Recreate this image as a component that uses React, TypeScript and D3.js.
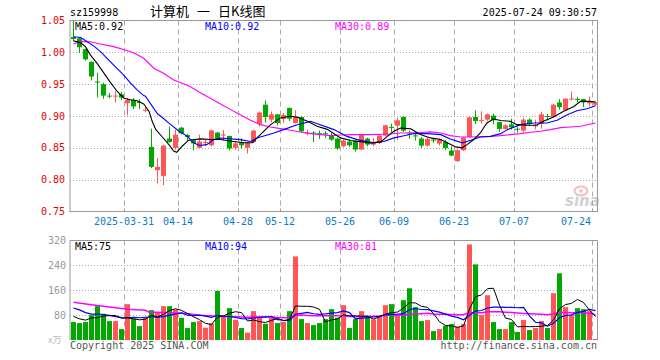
import React from "react";
import * as d3 from "d3";

const N = 88;

const openP = [1.024,1.022,1.005,0.985,0.954,0.950,0.932,0.931,0.934,0.920,0.9255,0.922,0.909,0.8515,0.815,0.806,0.8645,0.850,0.8817,0.870,0.862,0.850,0.858,0.854,0.874,0.8705,0.8686,0.850,0.8587,0.850,0.8588,0.8873,0.9177,0.8943,0.9026,0.8953,0.9125,0.889,0.8985,0.8735,0.874,0.873,0.873,0.8697,0.8645,0.8525,0.8598,0.8608,0.8473,0.8645,0.8551,0.8578,0.8692,0.8828,0.8849,0.8985,0.8725,0.8695,0.8645,0.8535,0.863,0.8567,0.8593,0.8457,0.8292,0.8463,0.8671,0.8985,0.8932,0.8943,0.9005,0.8906,0.8797,0.8869,0.880,0.877,0.8943,0.884,0.888,0.900,0.8985,0.9213,0.909,0.927,0.9268,0.9265,0.9198,0.9177];
const highP = [1.05,1.024,1.006,0.986,0.968,0.952,0.936,0.9395,0.938,0.928,0.928,0.9265,0.915,0.880,0.834,0.855,0.883,0.8786,0.883,0.872,0.864,0.8707,0.863,0.8786,0.875,0.878,0.869,0.860,0.865,0.859,0.8786,0.907,0.9245,0.907,0.903,0.9047,0.9135,0.909,0.900,0.8786,0.876,0.877,0.876,0.873,0.866,0.863,0.8634,0.862,0.8723,0.866,0.8655,0.870,0.886,0.888,0.897,0.8995,0.877,0.8734,0.867,0.866,0.8655,0.865,0.8625,0.8525,0.8473,0.867,0.899,0.909,0.9075,0.904,0.9036,0.891,0.8869,0.8958,0.883,0.8969,0.896,0.8943,0.9068,0.9036,0.919,0.9265,0.928,0.9385,0.930,0.927,0.9307,0.923];
const lowP = [1.018,0.999,0.987,0.956,0.929,0.927,0.928,0.921,0.925,0.901,0.911,0.911,0.906,0.818,0.794,0.7915,0.858,0.847,0.871,0.861,0.846,0.849,0.853,0.8525,0.863,0.861,0.846,0.847,0.849,0.841,0.8578,0.8837,0.890,0.890,0.885,0.889,0.892,0.888,0.874,0.870,0.859,0.864,0.865,0.861,0.847,0.851,0.8515,0.8442,0.8463,0.8525,0.8525,0.856,0.868,0.8744,0.8624,0.875,0.864,0.8614,0.850,0.852,0.8578,0.8535,0.8463,0.8368,0.8276,0.845,0.866,0.8875,0.888,0.892,0.887,0.875,0.8786,0.8786,0.874,0.874,0.884,0.879,0.880,0.8927,0.897,0.910,0.908,0.9245,0.921,0.914,0.9151,0.916];
const closeP = [1.021,1.008,0.989,0.962,0.953,0.932,0.931,0.932,0.929,0.925,0.915,0.921,0.910,0.820,0.820,0.8535,0.859,0.8707,0.8728,0.867,0.857,0.8598,0.859,0.8775,0.864,0.871,0.849,0.857,0.854,0.8578,0.877,0.9055,0.8985,0.9026,0.889,0.9016,0.8958,0.8995,0.876,0.874,0.8735,0.872,0.872,0.8629,0.849,0.8613,0.854,0.8473,0.8707,0.8551,0.8588,0.8692,0.8854,0.882,0.8932,0.877,0.872,0.869,0.8535,0.864,0.862,0.863,0.8494,0.8379,0.8463,0.8661,0.8979,0.8922,0.8935,0.9026,0.8933,0.8797,0.8854,0.8823,0.879,0.8943,0.8875,0.8855,0.9026,0.8985,0.9177,0.914,0.9271,0.9275,0.926,0.9213,0.9224,0.9218];
const volume = [57.6,54.4,57.6,80,108.8,84.3,60.8,60.8,35.2,115.2,68.3,44.8,72.5,96,89.6,108.8,108.8,98.1,71.5,38.4,57.6,60.8,39.5,53.3,157.9,76.8,102.4,65,38.4,23.5,92.8,74.7,52.3,72.5,54.4,58.7,92.8,268.8,67.2,54.4,48,54.4,67.2,99.2,71.5,112,38.4,67.2,92.8,71.5,66.1,75.7,112,115.2,80,128,166.4,105.6,60.8,64,28.8,35.2,45.9,51.2,42.7,51.2,307.2,243.2,80,144,57.6,35.2,35.2,57.6,25.6,64,32,38.4,60.8,38.4,150.4,214.4,105.6,80,102.4,99.2,92.8,3.2];

// price moving averages (position in candles, value)
const ma5Idx = [0,1.2,2,2.8,3.9,5.1,6.2,7.3,8.4,9.5,10.6,11.7,12.6,13.1,13.7,14.8,15.9,16.7,17.2,18.1,19.2,21.2,22.8,24.5,26.7,28.4,29.8,30.6,31.7,32.8,34.5,36.2,37.3,39,40.6,42.3,44.5,46.2,49.5,51.2,52.3,53.4,54.5,56.2,57.8,59.5,61.2,62.3,63.7,64.8,65.6,66.7,67.8,68.9,70,71.2,72.8,73.9,75.6,77.2,78.3,80,81.7,83.4,84.5,86.2,87];
const ma5Val = [1.018,1.015,1.009,0.996,0.983,0.967,0.952,0.9385,0.928,0.9255,0.924,0.919,0.907,0.892,0.879,0.867,0.855,0.845,0.843,0.8525,0.862,0.864,0.863,0.863,0.860,0.858,0.858,0.8655,0.876,0.886,0.897,0.8995,0.898,0.8916,0.884,0.879,0.8656,0.8614,0.8578,0.8594,0.868,0.876,0.881,0.880,0.871,0.8656,0.863,0.858,0.8515,0.850,0.855,0.863,0.8734,0.889,0.8952,0.893,0.8916,0.8864,0.8854,0.8854,0.8916,0.8984,0.9073,0.915,0.9229,0.9229,0.922];
const ma10Idx = [0,1.2,2.3,3.4,4.5,5.6,6.7,7.8,8.6,9.5,10.6,11.7,12,13,14,15,16,17.6,19,20,21,22.2,23.4,24.5,27.8,29.5,30.6,33.4,35,37.3,39.5,43.4,45.6,47.3,50,51.7,53.4,55.1,56.7,59,61.2,62.8,64.8,66.2,67.8,69.5,71.2,72.3,74.5,76.7,78.9,80.6,82.3,83.9,85.6,87];
const ma10Val = [1.0244,1.0234,1.0166,1.0098,1.001,0.9905,0.980,0.9696,0.9619,0.9515,0.941,0.932,0.931,0.917,0.9035,0.896,0.888,0.876,0.868,0.8578,0.8536,0.855,0.8629,0.8655,0.8629,0.860,0.8655,0.8734,0.8786,0.8864,0.8916,0.8786,0.868,0.8629,0.8578,0.860,0.8656,0.869,0.8725,0.8723,0.8707,0.864,0.8578,0.862,0.867,0.868,0.8723,0.8786,0.8864,0.889,0.889,0.8932,0.902,0.9083,0.9115,0.9161];
const ma30Idx = [0,1.2,2.8,4.5,6.7,8.6,10,11.7,13.4,15,16.7,17.8,19.5,21.2,22.8,24.5,26.2,27.8,29.5,31.2,32.8,34.5,36.2,37.8,39.5,41.2,42.8,44.5,46.2,49.5,52.8,54.5,57.8,59.5,61.2,62.8,64.5,66.2,69.5,71.2,72.8,74.5,76.2,77.8,79.5,81.2,82.8,84.5,87];
const ma30Val = [1.013,1.0172,1.0167,1.013,1.009,1.0036,0.9995,0.9906,0.975,0.967,0.9567,0.9526,0.946,0.936,0.928,0.919,0.910,0.9021,0.8932,0.8864,0.8828,0.8802,0.8775,0.8749,0.8723,0.8707,0.8692,0.8702,0.8707,0.8707,0.8718,0.8734,0.874,0.875,0.8734,0.8692,0.867,0.867,0.868,0.8692,0.8707,0.8723,0.8744,0.876,0.8786,0.8817,0.8828,0.8838,0.889];

// volume moving averages
const vma5Val = [76,68,64,71,71.7,77,78.3,78.9,70,71.3,68,64.9,67.2,79.4,74.2,82.3,95.1,100.3,95.4,85.1,74.9,65.3,53.6,49.9,73.8,77.7,86,91,88.1,61.2,64.4,58.9,56.3,63.2,69.3,62.5,66.1,109.4,108.4,108.4,106.2,98.6,58.2,64.6,68.1,80.9,77.7,77.7,76.4,76.4,67.2,74.7,83.6,88.1,89.8,102.2,120.3,119,108.2,105,85.1,58.9,46.9,45,40.8,45.2,99.6,139.1,144.9,165.1,166.4,112,70.4,65.9,42.2,43.5,42.9,43.5,44.2,46.7,64,100.5,113.9,117.8,130.6,120.3,96,75.5];
const vma10Val = [103,97,88,83,83,82,79,75,72,71.5,72.5,71.6,73.1,74.7,72.8,75.2,80,83.7,87.4,79.7,78.6,80.2,76.9,72.6,79.5,76.3,75.6,72.3,69,67.5,71,72.4,73.7,75.6,65.3,63.5,62.5,82.9,85.8,88.9,84.4,82.4,83.8,86.5,88.2,93.6,88.1,68,70.5,72.2,74,76.2,80.6,82.2,83.1,84.7,97.5,101.3,98.1,97.4,93.7,89.6,83,76.6,72.9,65.2,79.3,93,94.9,102.9,105.8,105.8,104.8,105.4,103.7,105,77.4,57,55,44.5,53.8,71.7,78.7,81,88.6,92.2,98.2,94.7];
const vma30Idx = [0,3,6,9,12,12.5,16,19,21,24,27,29,30,31,32,33,34,35,36,37,38,39,40,41,42,43,44,45,46,47,48,49,50,51,52,53,54,55,56,57,58,59,60,61,62,63,64,65,66,67,68,69,70,71,72,73,74,75,76,77,78,79,80,81,82,83,84,85,86,87];
const vma30Val = [121.6,113,106,99,95.5,90,87.5,85,80,76,74.5,72.9,74.1,74.7,74.6,74.3,72.5,71.6,72.7,79.6,80.7,78.7,78,78.3,78.2,78.3,77.7,77.8,75.4,74.4,75.1,76.2,76.5,77,79.4,81.5,78.9,80.6,82.7,84.1,84.8,86.2,84,82.7,82.5,81.8,81.4,81.1,88.3,87.4,87.9,90.8,91.2,90.5,89.5,88.1,86.5,84.9,84.7,83.8,82.7,81.6,84.4,89,88.8,87.6,88.4,87.4,85,81.6];

const priceTicks = [1.05, 1.0, 0.95, 0.9, 0.85, 0.8, 0.75];
const volTicks = [320, 240, 160, 80];
const dateTickIdx = [9, 18, 28, 35, 45, 54, 64, 74, 87];
const dateTickLabels = ["2025-03-31", "04-14", "04-28", "05-12", "05-26", "06-09", "06-23", "07-07", "07-24"];

const RED = "#ff5555";
const GREEN = "#00a800";
const MONO = "'DejaVu Sans Mono', 'Liberation Mono', monospace";
const CJK = "'Noto Sans CJK SC', sans-serif";

export default function App() {
  const L = 70, R = 597.5, T = 20.5, B = 211.5;
  const VT = 240.5, VB = 340;
  const xBand = d3.scaleBand<number>().domain(d3.range(N)).range([70, 598]);
  const cx = (i: number) => (xBand(i) as number) + 3;
  const xl = d3.scaleLinear().domain([0, N - 1]).range([cx(0) + 0.5, cx(N - 1) + 0.5]);
  const y = d3.scaleLinear().domain([0.75, 1.05]).range([B, T]);
  const yv = d3.scaleLinear().domain([0, 320]).range([VB, VT]);
  const crisp = (v: number) => Math.round(v) + 0.5;

  const priceLine = (idx: number[], val: number[]) =>
    d3.line<number>().x((_, k) => xl(idx[k])).y((d) => y(d))(val) || "";
  const volLine = (idx: number[], val: number[]) =>
    d3.line<number>().x((_, k) => xl(idx[k])).y((d) => yv(d))(val) || "";
  const allIdx = d3.range(N);

  const up = (i: number) => closeP[i] >= openP[i];

  return (
    <svg width={660} height={360} style={{ position: "absolute", left: 0, top: 0, background: "#fff" }}>
      <defs>
        <clipPath id="pclip">
          <rect x={L} y={T} width={R - L} height={B - T} />
        </clipPath>
        <clipPath id="vclip">
          <rect x={L} y={VT} width={R - L} height={VB - VT + 1} />
        </clipPath>
      </defs>

      {/* header */}
      <text x={70} y={16} fontFamily={MONO} fontSize={10} fill="#000">sz159998</text>
      <text x={150} y={16} fontFamily={CJK} fontSize={13} fill="#000">计算机</text>
      <text x={197} y={16} fontFamily={CJK} fontSize={13} fill="#000">一</text>
      <text x={218} y={16} fontFamily={CJK} fontSize={13} fill="#000">日K线图</text>
      <text x={597} y={16} fontFamily={MONO} fontSize={10} fill="#000" textAnchor="end">2025-07-24 09:30:57</text>

      {/* price grid */}
      {priceTicks.slice(1, -1).map((t) => (
        <line key={"hg" + t} x1={L} x2={R} y1={crisp(y(t))} y2={crisp(y(t))} stroke="#aaa" strokeDasharray="1,2" />
      ))}
      {dateTickIdx.map((i) => (
        <line key={"vg" + i} x1={(xBand(i) as number) + 0.5} x2={(xBand(i) as number) + 0.5} y1={T} y2={B} stroke="#aaa" strokeDasharray="5,4" />
      ))}
      {dateTickIdx.map((i) => (
        <line key={"tk" + i} x1={(xBand(i) as number) + 0.5} x2={(xBand(i) as number) + 0.5} y1={B - 3} y2={B} stroke="#999" />
      ))}

      {/* sina watermark */}
      <g opacity={0.55}>
        <ellipse cx={581} cy={191} rx={6.5} ry={4.5} fill="none" stroke="#f08a8a" strokeWidth={2} />
        <circle cx={581} cy={191} r={1.8} fill="#f08a8a" />
        <text x={565} y={206} fontFamily="'DejaVu Sans', sans-serif" fontSize={15} fontWeight="bold" fontStyle="italic" fill="#aaa">sina</text>
      </g>

      {/* candles */}
      <g clipPath="url(#pclip)">
        {allIdx.map((i) => {
          const c = up(i) ? RED : GREEN;
          const x = cx(i);
          const yTop = y(Math.max(openP[i], closeP[i]));
          const yBot = y(Math.min(openP[i], closeP[i]));
          const h = Math.max(1, yBot - yTop);
          return (
            <g key={"c" + i}>
              <line x1={x + 0.5} x2={x + 0.5} y1={y(highP[i])} y2={y(lowP[i])} stroke={c} />
              <rect x={x - 2} y={yTop} width={5} height={h} fill={c} />
            </g>
          );
        })}
        <path d={priceLine(ma30Idx, ma30Val)} fill="none" stroke="#ff00ff" strokeWidth={1.1} />
        <path d={priceLine(ma10Idx, ma10Val)} fill="none" stroke="#0000ff" strokeWidth={1.1} />
        <path d={priceLine(ma5Idx, ma5Val)} fill="none" stroke="#000" strokeWidth={1.1} />
      </g>

      {/* price frame */}
      <rect x={L} y={T} width={R - L} height={B - T} fill="none" stroke="#999" />

      {/* price labels */}
      {priceTicks.map((t) => (
        <text key={"pl" + t} x={65} y={y(t) + 3.5} fontFamily={MONO} fontSize={10} fill="#e60000" textAnchor="end">{t.toFixed(2)}</text>
      ))}
      <text x={75} y={30} fontFamily={MONO} fontSize={10} fill="#000">MA5:0.92</text>
      <text x={205} y={30} fontFamily={MONO} fontSize={10} fill="#0000ff">MA10:0.92</text>
      <text x={335} y={30} fontFamily={MONO} fontSize={10} fill="#ff00ff">MA30:0.89</text>

      {/* date labels */}
      {dateTickIdx.map((i, k) => {
        const last = k === dateTickIdx.length - 1;
        return (
          <text key={"dl" + i} x={last ? (xBand(i) as number) - 1 : (xBand(i) as number)} y={225} fontFamily={MONO} fontSize={10} fill="#0a7cc8" textAnchor={last ? "end" : "middle"}>
            {dateTickLabels[k]}
          </text>
        );
      })}

      {/* volume grid */}
      {volTicks.slice(1).map((t) => (
        <line key={"vh" + t} x1={L} x2={R} y1={crisp(yv(t))} y2={crisp(yv(t))} stroke="#aaa" strokeDasharray="1,2" />
      ))}
      {dateTickIdx.map((i) => (
        <line key={"vv" + i} x1={(xBand(i) as number) + 0.5} x2={(xBand(i) as number) + 0.5} y1={VT} y2={VB} stroke="#aaa" strokeDasharray="5,4" />
      ))}

      <g clipPath="url(#vclip)">
        {allIdx.map((i) => (
          <rect key={"v" + i} x={cx(i) - 2} y={yv(volume[i])} width={5} height={VB - yv(volume[i])} fill={up(i) ? RED : GREEN} />
        ))}
        <path d={volLine(vma30Idx, vma30Val)} fill="none" stroke="#ff00ff" strokeWidth={1.5} />
        <path d={volLine(allIdx, vma10Val)} fill="none" stroke="#0000ff" strokeWidth={1.2} />
        <path d={volLine(allIdx, vma5Val)} fill="none" stroke="#000" strokeWidth={1} />
      </g>

      {/* volume frame (left, top, right) */}
      <path d={`M${L},${VB}V${VT}H${R}V${VB}`} fill="none" stroke="#999" />

      {volTicks.map((t) => (
        <text key={"vl" + t} x={66} y={yv(t) + 3.5} fontFamily={MONO} fontSize={10} fill="#999" textAnchor="end">{t}</text>
      ))}
      <text x={48} y={343} fontFamily={CJK} fontSize={9} fill="#bbb">x万</text>
      <text x={75} y={250} fontFamily={MONO} fontSize={10} fill="#000">MA5:75</text>
      <text x={205} y={250} fontFamily={MONO} fontSize={10} fill="#0000ff">MA10:94</text>
      <text x={335} y={250} fontFamily={MONO} fontSize={10} fill="#ff00ff">MA30:81</text>

      {/* footer */}
      <text x={70} y={349} fontFamily={MONO} fontSize={10} fill="#555">Copyright 2025 SINA.COM</text>
      <text x={597} y={349} fontFamily={MONO} fontSize={10} fill="#555" textAnchor="end">http://finance.sina.com.cn</text>
    </svg>
  );
}
